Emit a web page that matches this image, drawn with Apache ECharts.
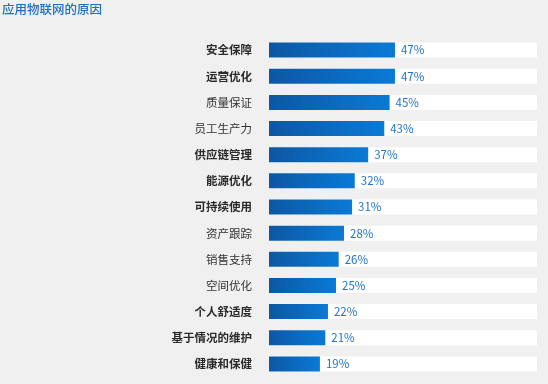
<!DOCTYPE html>
<html><head><meta charset="utf-8">
<script src="https://cdn.jsdelivr.net/npm/echarts@6/dist/echarts.min.js"></script>
<style>html,body{margin:0;padding:0;background:#f0f0f1;}#c{width:548px;height:384px;}</style>
</head><body><div id="c"></div>
<script>
var categories = ['安全保障','运营优化','质量保证','员工生产力','供应链管理','能源优化','可持续使用','资产跟踪','销售支持','空间优化','个人舒适度','基于情况的维护','健康和保健'];
var values = [47,47,45,43,37,32,31,28,26,25,22,21,19];
var boldCats = ['安全保障','运营优化','能源优化','可持续使用','个人舒适度','基于情况的维护','健康和保健','供应链管理'];
var chart = echarts.init(document.getElementById('c'));
chart.setOption({
  backgroundColor:'#f0f0f1',
  title:{text:'应用物联网的原因',left:2,top:3,padding:0,textStyle:{color:'#1c6fc4',fontSize:12.5,fontWeight:500,fontFamily:'Noto Sans CJK SC'}},
  grid:{left:269,right:11,top:37,bottom:7},
  xAxis:{type:'value',min:0,max:100,show:false},
  yAxis:{type:'category',data:categories,inverse:true,axisLine:{show:false},axisTick:{show:false},
    axisLabel:{margin:17,fontSize:11.5,color:'#2a2a2a',fontFamily:'Noto Sans CJK SC',
      formatter:function(v){return boldCats.indexOf(v)>=0?'{b|'+v+'}':'{n|'+v+'}';},
      rich:{b:{fontWeight:'bold',fontSize:11.5,color:'#2a2a2a',fontFamily:'Noto Sans CJK SC'},n:{fontWeight:'normal',fontSize:11.5,color:'#333',fontFamily:'Noto Sans CJK SC'}}}},
  series:[{type:'bar',data:values,barWidth:15,
    showBackground:true,backgroundStyle:{color:'#ffffff'},
    itemStyle:{color:new echarts.graphic.LinearGradient(0,0,1,0,[{offset:0,color:'#0d57a3'},{offset:1,color:'#0a7ad6'}])},
    label:{show:true,position:'right',distance:6,formatter:'{c}%',color:'#1f74c8',fontSize:11.5,fontFamily:'Noto Sans CJK SC'}}],
  animation:false
});
</script></body></html>
